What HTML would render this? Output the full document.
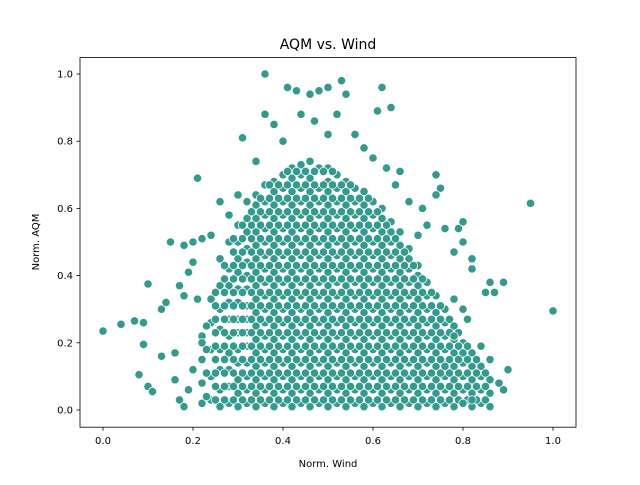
<!DOCTYPE html>
<html><head><meta charset="utf-8"><style>
body{margin:0;background:#fff;font-family:"Liberation Sans","DejaVu Sans",sans-serif}
</style></head><body>
<svg id="chart" width="640" height="480" xmlns="http://www.w3.org/2000/svg">
<rect width="640" height="480" fill="#fff"/>
<text x="328" y="49" text-anchor="middle" font-size="14" font-family="DejaVu Sans, sans-serif">AQM vs. Wind</text>
<g id="points"></g>
<rect x="80" y="57.6" width="496" height="369.6" fill="none" stroke="#000" stroke-width="0.8"/>
<g id="axes" font-family="DejaVu Sans, sans-serif" font-size="10"></g>
<text x="328" y="467" text-anchor="middle" font-size="10" font-family="DejaVu Sans, sans-serif">Norm. Wind</text>
<text transform="translate(39,242) rotate(-90)" text-anchor="middle" font-size="10" font-family="DejaVu Sans, sans-serif">Norm. AQM</text>
</svg>
<script>
const xTicks=[0.0,0.2,0.4,0.6,0.8,1.0];
const yTicks=[0.0,0.2,0.4,0.6,0.8,1.0];
const outlierX=[0,0.04,0.07,0.09,0.09,0.08,0.1,0.11,0.1,0.13,0.14,0.13,0.16,0.15,0.18,0.21,0.17,0.18,0.19,0.2,0.2,0.17,0.18,0.22,0.24,0.26,0.31,0.36,0.36,0.41,0.43,0.44,0.46,0.48,0.5,0.53,0.54,0.62,0.61,0.64,0.52,0.47,0.5,0.38,0.4,0.56,0.58,0.6,0.63,0.66,0.74,0.75,0.74,0.71,0.72,0.76,0.79,0.8,0.8,0.82,0.82,0.78,0.85,0.87,0.86,0.89,0.95,1.0,0.9,0.89,0.88,0.86,0.84,0.81,0.8,0.78,0.83,0.82,0.8,0.76,0.78,0.34,0.3,0.28,0.65,0.68,0.7,0.2,0.22,0.19,0.16,0.21];
const outlierY=[0.235,0.255,0.265,0.26,0.195,0.105,0.07,0.055,0.375,0.3,0.32,0.16,0.17,0.5,0.49,0.69,0.37,0.34,0.41,0.5,0.44,0.03,0.01,0.51,0.52,0.62,0.81,1.0,0.88,0.96,0.95,0.88,0.94,0.95,0.96,0.98,0.94,0.96,0.89,0.9,0.88,0.86,0.82,0.85,0.8,0.82,0.78,0.75,0.72,0.71,0.7,0.66,0.64,0.6,0.55,0.54,0.54,0.56,0.5,0.45,0.42,0.47,0.35,0.35,0.38,0.38,0.615,0.295,0.12,0.06,0.08,0.15,0.19,0.27,0.3,0.33,0.11,0.03,0.02,0.13,0.22,0.74,0.64,0.58,0.67,0.62,0.52,0.12,0.2,0.06,0.09,0.33];
const columnX=[0.22,0.24,0.26,0.28,0.30,0.32,0.34,0.36,0.38,0.40,0.42,0.44,0.46,0.48,0.50,0.52,0.54,0.56,0.58,0.60,0.62,0.64,0.66,0.68,0.70,0.72,0.74,0.76,0.78,0.80,0.82,0.84,0.86];
const columnY=[
[0.02,0.08,0.15,0.22],
[0.03,0.1,0.18,0.26,0.33],
[0.01,0.06,0.12,0.18,0.24,0.3,0.37,0.45],
[0.02,0.07,0.12,0.17,0.22,0.27,0.32,0.37,0.42,0.5],
[0.01,0.05,0.09,0.14,0.18,0.23,0.27,0.32,0.36,0.41,0.45,0.5,0.55],
[0.02,0.06,0.1,0.14,0.19,0.23,0.27,0.31,0.36,0.4,0.44,0.48,0.53,0.57,0.62],
[0.01,0.05,0.09,0.13,0.17,0.21,0.25,0.29,0.33,0.37,0.41,0.45,0.49,0.53,0.57,0.61,0.64],
[0.02,0.06,0.1,0.14,0.18,0.22,0.26,0.3,0.34,0.38,0.42,0.46,0.5,0.54,0.58,0.62,0.67],
[0.01,0.05,0.09,0.13,0.17,0.21,0.25,0.29,0.33,0.37,0.41,0.45,0.49,0.53,0.57,0.61,0.65,0.68],
[0.02,0.06,0.1,0.14,0.18,0.22,0.26,0.3,0.34,0.38,0.42,0.46,0.5,0.54,0.58,0.62,0.66,0.7],
[0.01,0.05,0.09,0.13,0.17,0.21,0.25,0.29,0.33,0.37,0.41,0.45,0.49,0.53,0.57,0.61,0.65,0.69,0.72],
[0.02,0.06,0.1,0.14,0.18,0.22,0.26,0.3,0.34,0.38,0.42,0.46,0.5,0.54,0.58,0.62,0.66,0.7,0.73],
[0.01,0.05,0.09,0.13,0.17,0.21,0.25,0.29,0.33,0.37,0.41,0.45,0.49,0.53,0.57,0.61,0.65,0.69,0.74],
[0.02,0.06,0.1,0.14,0.18,0.22,0.26,0.3,0.34,0.38,0.42,0.46,0.5,0.54,0.58,0.62,0.66,0.72],
[0.01,0.05,0.09,0.13,0.17,0.21,0.25,0.29,0.33,0.37,0.41,0.45,0.49,0.53,0.57,0.61,0.65,0.68,0.72],
[0.02,0.06,0.1,0.14,0.18,0.22,0.26,0.3,0.34,0.38,0.42,0.46,0.5,0.54,0.58,0.62,0.66,0.7],
[0.01,0.05,0.09,0.13,0.17,0.21,0.25,0.29,0.33,0.37,0.41,0.45,0.49,0.53,0.57,0.61,0.65,0.68],
[0.02,0.06,0.1,0.14,0.18,0.22,0.26,0.3,0.34,0.38,0.42,0.46,0.5,0.54,0.58,0.62,0.66],
[0.01,0.05,0.09,0.13,0.17,0.21,0.25,0.29,0.33,0.37,0.41,0.45,0.49,0.53,0.57,0.61,0.65],
[0.02,0.06,0.1,0.14,0.18,0.22,0.26,0.3,0.34,0.38,0.42,0.46,0.5,0.54,0.58,0.62],
[0.01,0.05,0.09,0.13,0.17,0.21,0.25,0.29,0.33,0.37,0.41,0.45,0.49,0.53,0.57,0.6],
[0.02,0.06,0.1,0.14,0.18,0.22,0.26,0.3,0.34,0.38,0.42,0.46,0.5,0.53,0.56],
[0.01,0.05,0.09,0.13,0.17,0.21,0.25,0.29,0.33,0.37,0.41,0.45,0.49,0.53],
[0.02,0.06,0.1,0.14,0.18,0.22,0.26,0.3,0.34,0.38,0.42,0.45,0.48],
[0.01,0.05,0.09,0.13,0.17,0.21,0.25,0.29,0.33,0.37,0.4,0.43],
[0.02,0.06,0.1,0.14,0.18,0.22,0.26,0.3,0.34,0.38],
[0.01,0.05,0.09,0.13,0.17,0.21,0.25,0.29,0.34],
[0.02,0.06,0.1,0.14,0.18,0.22,0.26,0.3],
[0.01,0.05,0.09,0.13,0.17,0.21,0.25],
[0.02,0.06,0.1,0.14,0.17,0.2],
[0.01,0.05,0.09,0.13,0.17],
[0.02,0.06,0.1,0.13],
[0.01,0.05,0.09]
];
const columnX2=[0.23,0.25,0.27,0.29,0.31,0.33,0.35,0.37,0.39,0.41,0.43,0.45,0.47,0.49,0.51,0.53,0.55,0.57,0.59,0.61,0.63,0.65,0.67,0.69,0.71,0.73,0.75,0.77,0.79,0.81,0.83,0.85];
const columnY2=[
[0.04,0.11,0.18,0.25],
[0.03,0.07,0.11,0.15,0.19,0.23,0.27,0.31,0.35],
[0.03,0.07,0.11,0.15,0.19,0.23,0.27,0.31,0.35,0.39,0.43],
[0.03,0.07,0.11,0.15,0.19,0.23,0.27,0.31,0.35,0.39,0.43,0.47,0.51],
[0.03,0.07,0.11,0.15,0.19,0.23,0.27,0.31,0.35,0.39,0.43,0.47,0.51,0.55],
[0.03,0.07,0.11,0.15,0.19,0.23,0.27,0.31,0.35,0.39,0.43,0.47,0.51,0.55,0.59],
[0.03,0.07,0.11,0.15,0.19,0.23,0.27,0.31,0.35,0.39,0.43,0.47,0.51,0.55,0.59,0.63],
[0.03,0.07,0.11,0.15,0.19,0.23,0.27,0.31,0.35,0.39,0.43,0.47,0.51,0.55,0.59,0.63,0.67],
[0.03,0.07,0.11,0.15,0.19,0.23,0.27,0.31,0.35,0.39,0.43,0.47,0.51,0.55,0.59,0.63,0.67],
[0.03,0.07,0.11,0.15,0.19,0.23,0.27,0.31,0.35,0.39,0.43,0.47,0.51,0.55,0.59,0.63,0.67,0.71],
[0.03,0.07,0.11,0.15,0.19,0.23,0.27,0.31,0.35,0.39,0.43,0.47,0.51,0.55,0.59,0.63,0.67,0.71],
[0.03,0.07,0.11,0.15,0.19,0.23,0.27,0.31,0.35,0.39,0.43,0.47,0.51,0.55,0.59,0.63,0.67,0.71],
[0.03,0.07,0.11,0.15,0.19,0.23,0.27,0.31,0.35,0.39,0.43,0.47,0.51,0.55,0.59,0.63,0.67,0.71],
[0.03,0.07,0.11,0.15,0.19,0.23,0.27,0.31,0.35,0.39,0.43,0.47,0.51,0.55,0.59,0.63,0.67,0.71],
[0.03,0.07,0.11,0.15,0.19,0.23,0.27,0.31,0.35,0.39,0.43,0.47,0.51,0.55,0.59,0.63,0.67,0.71],
[0.03,0.07,0.11,0.15,0.19,0.23,0.27,0.31,0.35,0.39,0.43,0.47,0.51,0.55,0.59,0.63,0.67],
[0.03,0.07,0.11,0.15,0.19,0.23,0.27,0.31,0.35,0.39,0.43,0.47,0.51,0.55,0.59,0.63,0.67],
[0.03,0.07,0.11,0.15,0.19,0.23,0.27,0.31,0.35,0.39,0.43,0.47,0.51,0.55,0.59,0.63],
[0.03,0.07,0.11,0.15,0.19,0.23,0.27,0.31,0.35,0.39,0.43,0.47,0.51,0.55,0.59,0.63],
[0.03,0.07,0.11,0.15,0.19,0.23,0.27,0.31,0.35,0.39,0.43,0.47,0.51,0.55,0.59],
[0.03,0.07,0.11,0.15,0.19,0.23,0.27,0.31,0.35,0.39,0.43,0.47,0.51,0.55],
[0.03,0.07,0.11,0.15,0.19,0.23,0.27,0.31,0.35,0.39,0.43,0.47,0.51],
[0.03,0.07,0.11,0.15,0.19,0.23,0.27,0.31,0.35,0.39,0.43,0.47],
[0.03,0.07,0.11,0.15,0.19,0.23,0.27,0.31,0.35,0.39,0.43],
[0.03,0.07,0.11,0.15,0.19,0.23,0.27,0.31,0.35,0.39],
[0.03,0.07,0.11,0.15,0.19,0.23,0.27,0.31,0.35],
[0.03,0.07,0.11,0.15,0.19,0.23,0.27,0.31],
[0.03,0.07,0.11,0.15,0.19,0.23,0.27],
[0.03,0.07,0.11,0.15,0.19,0.23],
[0.03,0.07,0.11,0.15,0.19],
[0.03,0.07,0.11,0.15],
[0.03,0.07,0.11]
];
const X0=80,X1=576,Y0=427.2,Y1=57.6;
function sx(v){return 103+450*v;}
function sy(v){return 410-336*v;}
const NS="http://www.w3.org/2000/svg";
const pts=document.getElementById('points');
function dot(x,y){
  const c=document.createElementNS(NS,'circle');
  c.setAttribute('cx',sx(x));c.setAttribute('cy',sy(y));c.setAttribute('r',4.2);
  c.setAttribute('fill','#339a8e');c.setAttribute('stroke','#fff');c.setAttribute('stroke-width','0.8');
  
  
  pts.appendChild(c);
}
columnX.forEach((x,i)=>columnY[i].forEach(y=>dot(x,y)));
columnX2.forEach((x,i)=>columnY2[i].forEach(y=>dot(x,y)));
outlierX.forEach((x,i)=>dot(x,outlierY[i]));
const ax=document.getElementById('axes');
xTicks.forEach(t=>{
  const l=document.createElementNS(NS,'line');
  l.setAttribute('x1',sx(t));l.setAttribute('x2',sx(t));l.setAttribute('y1',Y0);l.setAttribute('y2',Y0+3.5);l.setAttribute('stroke','#000');l.setAttribute('stroke-width','0.8');
  
  
  ax.appendChild(l);
  const tx=document.createElementNS(NS,'text');
  tx.setAttribute('x',sx(t));tx.setAttribute('y',Y0+17);tx.setAttribute('text-anchor','middle');tx.textContent=t.toFixed(1);
  
  
  ax.appendChild(tx);
});
yTicks.forEach(t=>{
  const l=document.createElementNS(NS,'line');
  l.setAttribute('x1',X0-3.5);l.setAttribute('x2',X0);l.setAttribute('y1',sy(t));l.setAttribute('y2',sy(t));l.setAttribute('stroke','#000');l.setAttribute('stroke-width','0.8');
  
  
  ax.appendChild(l);
  const tx=document.createElementNS(NS,'text');
  tx.setAttribute('x',X0-7);tx.setAttribute('y',sy(t)+3.5);tx.setAttribute('text-anchor','end');tx.textContent=t.toFixed(1);
  
  
  ax.appendChild(tx);
});
</script>
</body></html>
